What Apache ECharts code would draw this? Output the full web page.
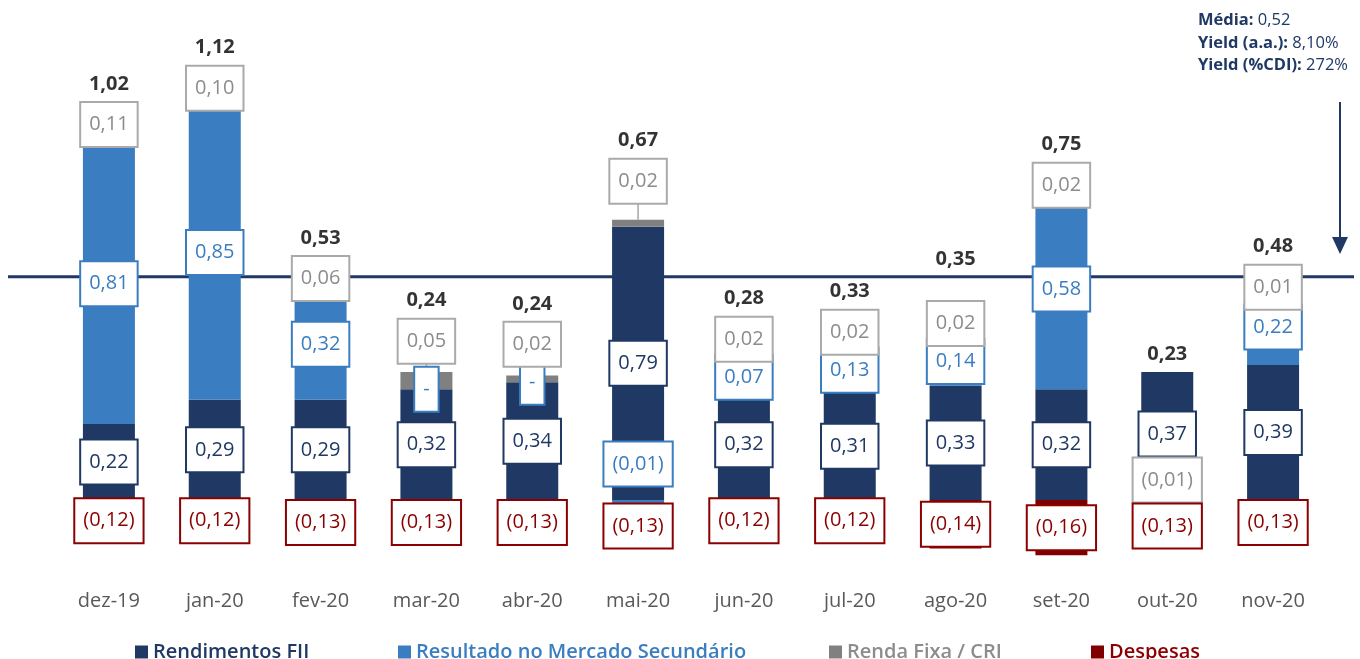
<!DOCTYPE html>
<html><head><meta charset="utf-8">
<script src="https://cdn.jsdelivr.net/npm/echarts@6/dist/echarts.min.js"></script>
<style>html,body{margin:0;padding:0;background:#fff}#c{width:1360px;height:659px}</style>
</head><body><div id="c"></div>
<script>
// ---------------- data ----------------
const categories = ['dez-19','jan-20','fev-20','mar-20','abr-20','mai-20','jun-20','jul-20','ago-20','set-20','out-20','nov-20'];
const rendimentosFII      = [0.22, 0.29, 0.29, 0.32, 0.34, 0.79, 0.32, 0.31, 0.33, 0.32, 0.37, 0.39];
const resultadoSecundario = [0.81, 0.85, 0.32, 0,    0,   -0.01, 0.07, 0.13, 0.14, 0.58, null, 0.22];
const rendaFixaCRI        = [0.11, 0.10, 0.06, 0.05, 0.02, 0.02, 0.02, 0.02, 0.02, 0.02, -0.01, 0.01];
const despesas            = [-0.12,-0.12,-0.13,-0.13,-0.13,-0.13,-0.12,-0.12,-0.14,-0.16,-0.13,-0.13];
const totais              = [1.02, 1.12, 0.53, 0.24, 0.24, 0.67, 0.28, 0.33, 0.35, 0.75, 0.23, 0.48];
const seriesNames = ['Rendimentos FII','Resultado no Mercado Secundário','Renda Fixa / CRI','Despesas'];
const mediaTxt = '0,52', yieldAATxt = '8,10%', yieldCDITxt = '272%';
const mediaLineLevel = 0.645; // level where the reference draws its average line

// ---------------- styles / layout ----------------
const FONT = '"Open Sans", "Noto Sans", sans-serif';
const NAVY = '#1F3864', BLUE = '#3A7DC0', GRAY = '#808080', RED = '#800000';
const barColors   = [NAVY, BLUE, GRAY, RED];
const textColors  = [NAVY, '#3A7DC0', '#8C8C8C', '#8B0000'];
const boxBorders  = [NAVY, '#3A7DC0', '#AAAAAA', '#8B0000'];
const legendColors= [NAVY, '#3A7DC0', '#8C8C8C', '#8B0000'];
const legendLeft  = [130, 393, 824, 1086];
// extra upward lift (px) of some label boxes, as in the reference: {categoryIndex: {seriesIndex: px}}
const labelLift = { 3: { 2: 10 }, 5: { 1: 16, 2: 42 } };

const fmt = v => v.toFixed(2).replace('.', ',');
const fmtLabel = v => v === 0 ? '-' : (v < 0 ? '(' + fmt(-v) + ')' : fmt(v));

const seriesData = [rendimentosFII, resultadoSecundario, rendaFixaCRI, despesas];
const positiveTop = categories.map((c, i) => seriesData.reduce((s, arr) => s + (arr[i] != null && arr[i] > 0 ? arr[i] : 0), 0));

const desired = [[], [], [], [], []];
const layoutFn = params => {
  const d = desired[params.seriesIndex] && desired[params.seriesIndex][params.dataIndex];
  if (d == null) return {};
  const c = params.labelRect.y + params.labelRect.height / 2;
  return { dy: d - c };
};

function buildOption(graphics) {
  const series = seriesData.map((arr, s) => ({
    name: seriesNames[s], type: 'bar', stack: 'total', data: arr, barWidth: 52,
    itemStyle: { color: barColors[s] },
    label: {
      show: true, position: 'inside', formatter: p => fmtLabel(p.value),
      color: textColors[s], fontSize: 20, fontFamily: FONT, lineHeight: 27,
      backgroundColor: '#fff', borderColor: boxBorders[s], borderWidth: 2, padding: [8, 8]
    },
    labelLayout: layoutFn
  }));
  series.push({
    name: 'total', type: 'scatter', data: positiveTop, symbolSize: 1,
    itemStyle: { color: 'rgba(0,0,0,0)' }, silent: true,
    label: { show: true, position: 'inside', formatter: p => fmt(totais[p.dataIndex]),
      color: '#000', fontWeight: 'bold', fontSize: 20, fontFamily: FONT },
    labelLayout: layoutFn
  });
  return {
    animation: false,
    backgroundColor: '#fff',
    grid: { left: 56, right: 34, top: 15.6, bottom: 89.8 },
    xAxis: { type: 'category', data: categories,
      axisLine: { show: false }, axisTick: { show: false },
      axisLabel: { color: '#595959', fontSize: 20, fontFamily: FONT, margin: 22 } },
    yAxis: { type: 'value', min: -0.2, max: 1.4, show: false, splitLine: { show: false } },
    legend: seriesNames.map((n, k) => ({
      data: [n], left: legendLeft[k], top: 637, icon: 'rect', itemWidth: 13, itemHeight: 13,
      selectedMode: false, textStyle: { color: legendColors[k], fontSize: 20, fontWeight: 600, fontFamily: FONT }
    })),
    graphic: graphics || [],
    series
  };
}

const chart = echarts.init(document.getElementById('c'));
chart.setOption(buildOption());

// compute label placement through the axis scales
const Y = v => chart.convertToPixel({ yAxisIndex: 0 }, v);
const X = i => chart.convertToPixel({ xAxisIndex: 0 }, i);
const H = 45, STEP_POS = 38, STEP_NEG = 46, HALF_BAR = 26, TOTAL_GAP = 18;
const lineY = Y(mediaLineLevel);
const connectors = [];
categories.forEach((c, i) => {
  let pos = 0, neg = 0;
  const items = [];
  seriesData.forEach((arr, s) => {
    const v = arr[i]; if (v == null) return;
    let a, b;
    if (v >= 0) { a = pos; b = pos + v; pos = b; } else { a = neg; b = neg + v; neg = b; }
    items.push({ s, yc: (Y(a) + Y(b)) / 2, y0: Math.min(Y(a), Y(b)), y1: Math.max(Y(a), Y(b)), neg: v < 0 });
  });
  items.sort((p, q) => q.yc - p.yc);
  let prev = null, prevNeg = false;
  const lift = labelLift[i] || {};
  items.forEach(it => {
    let cc = it.yc;
    if (prev != null) cc = Math.min(cc, prev - (prevNeg ? STEP_NEG : STEP_POS));
    cc -= (lift[it.s] || 0);
    desired[it.s][i] = cc; prev = cc; prevNeg = it.neg;
    const boxBottom = cc + H / 2;
    if (boxBottom < it.y0 - 3) {
      const cx = X(i);
      connectors.push({ type: 'line', z: 1, shape: { x1: cx, y1: boxBottom, x2: it.neg ? cx + HALF_BAR : cx, y2: it.neg ? it.y1 : it.y0 },
        style: { stroke: '#A6A6A6', lineWidth: 1.5 } });
    }
  });
  let t = Math.min(Y(pos), prev - H / 2) - TOTAL_GAP;
  if (Math.abs(t - lineY) < 14) t = lineY - 18; // keep the total clear of the average line
  desired[4][i] = t;
});

const graphics = [
  { type: 'line', z: 0, shape: { x1: 8, y1: lineY, x2: 1354, y2: lineY }, style: { stroke: NAVY, lineWidth: 3 } },
  { type: 'line', z: 5, shape: { x1: 1340, y1: 102, x2: 1340, y2: 240 }, style: { stroke: NAVY, lineWidth: 2 } },
  { type: 'polygon', z: 5, shape: { points: [[1332, 237], [1348, 237], [1340, 254]] }, style: { fill: NAVY } },
  { type: 'text', z: 5, left: 1198, top: 12, style: {
      text: '{b|Média:}{n| ' + mediaTxt + '}\n{b|Yield (a.a.):}{n| ' + yieldAATxt + '}\n{b|Yield (%CDI):}{n| ' + yieldCDITxt + '}',
      rich: {
        b: { fontWeight: 'bold', fontSize: 16.5, fontFamily: FONT, fill: NAVY, lineHeight: 22.5 },
        n: { fontSize: 16.5, fontFamily: FONT, fill: NAVY, lineHeight: 22.5 }
      }, fontSize: 16.5, fontFamily: FONT, fill: NAVY } }
].concat(connectors);
chart.setOption(buildOption(graphics), true);
</script></body></html>
